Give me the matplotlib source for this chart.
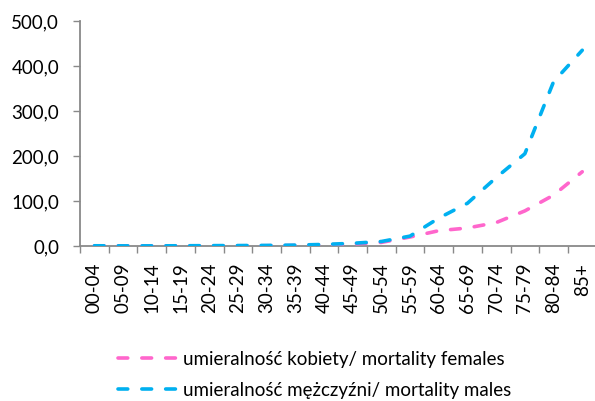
import matplotlib
matplotlib.use('Agg')
import matplotlib.pyplot as plt
import numpy as np

plt.rcParams['font.family'] = ['Lato', 'DejaVu Sans']

age_groups = ['00-04', '05-09', '10-14', '15-19', '20-24', '25-29', '30-34', '35-39',
              '40-44', '45-49', '50-54', '55-59', '60-64', '65-69', '70-74', '75-79',
              '80-84', '85+']
females = [0.4, 0.2, 0.2, 0.3, 0.3, 0.4, 0.6, 1.2, 2.5, 4.5, 8.0, 20.0, 34.0, 40.0,
           52.0, 78.0, 113.0, 165.0]
males = [0.5, 0.3, 0.3, 0.5, 0.8, 1.0, 1.3, 2.0, 3.5, 6.0, 10.0, 22.0, 62.0, 95.0,
         152.0, 205.0, 365.0, 435.0]
y_ticks = [0, 100, 200, 300, 400, 500]

PINK = '#FF66CC'
BLUE = '#00B0F0'
AXIS = '#898989'
FS = 13.5

fig = plt.figure(figsize=(5.95, 4.01), dpi=100)
ax = fig.add_axes([80 / 595, 1 - 246 / 401, (596.6 - 80) / 595, (246 - 21) / 401])

x = np.arange(len(age_groups))
style = dict(lw=2.6, dashes=(2.7, 3.9), dash_capstyle='round')
ax.plot(x, females, color=PINK, label='umieralność kobiety/ mortality females', **style)
ax.plot(x, males, color=BLUE, label='umieralność mężczyźni/ mortality males', **style)

ax.set_xlim(-0.5, len(age_groups) - 0.5)
ax.set_ylim(0, 500)
ax.set_yticks(y_ticks)
ax.set_yticklabels([f'{v:.1f}'.replace('.', ',') for v in y_ticks], fontsize=FS)

ax.set_xticks(x)
ax.set_xticklabels(age_groups, rotation=90, fontsize=FS)
ax.set_xticks(np.arange(len(age_groups)) - 0.5, minor=True)
ax.tick_params(axis='x', which='major', length=0, pad=12)
ax.tick_params(axis='x', which='minor', length=5, color=AXIS, width=1)
ax.tick_params(axis='y', length=5, color=AXIS, width=1, pad=10)

for s in ['top', 'right']:
    ax.spines[s].set_visible(False)
for s in ['left', 'bottom']:
    ax.spines[s].set_color(AXIS)
    ax.spines[s].set_linewidth(1.3)
ax.spines['bottom'].set_zorder(0)

fig.legend(loc='center left', bbox_to_anchor=(101 / 595, 1 - 375 / 401),
           frameon=False, fontsize=FS, handlelength=3.1, handletextpad=0.35,
           labelspacing=0.75)

fig.savefig('out.png', dpi=100)
